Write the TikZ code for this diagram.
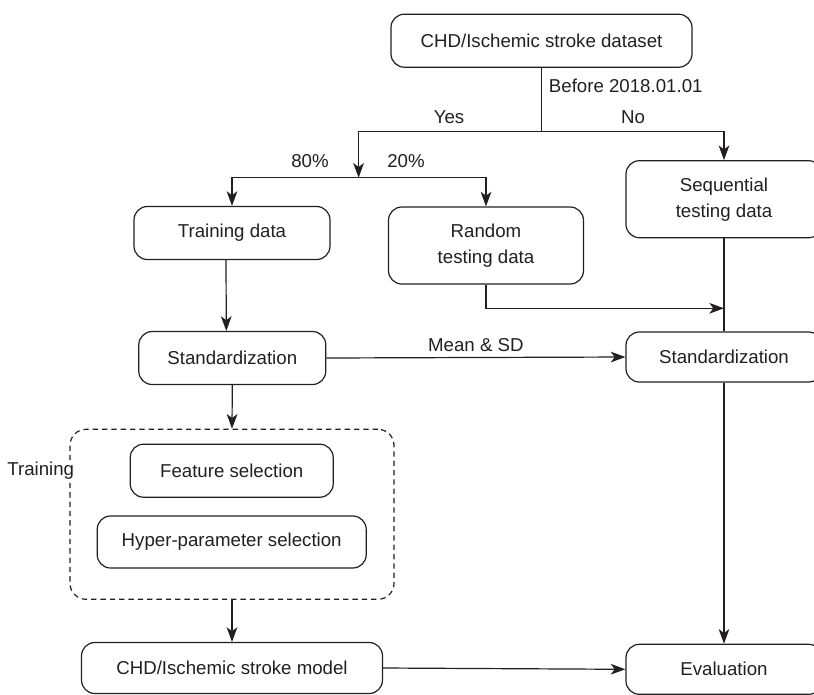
\documentclass[tikz,border=0pt]{standalone}
\usepackage{fontspec}
\setmainfont{Liberation Sans}
\usetikzlibrary{%
  arrows.meta,%
  calc%
}
\definecolor{inkdark}{HTML}{231F20}
\tikzset{>={Stealth[length=11pt,width=8pt,inset=3pt]},%
  every picture/.style={line width=0.9pt,draw=inkdark,text=inkdark},
  rbox/.style={draw,rounded corners=10pt,align=center,inner sep=0pt,
    font=\fontsize{14}{19.5}\selectfont},
  lbl/.style={font=\fontsize{14}{17}\selectfont,inner sep=1pt}}

\begin{document}
\begin{tikzpicture}[x=0.75pt,y=-0.75pt]
      \useasboundingbox (0,0) rectangle (814,694);
      % boxes
      \node[rbox,minimum width=225.75pt,minimum height=39.75pt] (dataset) at (541.5,40.7) {CHD/Ischemic stroke dataset};
      \node[rbox,minimum width=147pt,minimum height=39.75pt] (traindata) at (232,233) {Training data};
      \node[rbox,minimum width=146.25pt,minimum height=57.75pt] (randtest) at (486,245.5) {Random\\testing data};
      \node[rbox,minimum width=147pt,minimum height=57.75pt] (seqtest) at (724,199.2) {Sequential\\testing data};
      \node[rbox,minimum width=140.25pt,minimum height=39.75pt] (stdleft) at (232.3,358) {Standardization};
      \node[rbox,minimum width=147pt,minimum height=37.5pt] (stdright) at (724,357) {Standardization};
      \node[rbox,minimum width=152.25pt,minimum height=39.75pt] (featsel) at (231.7,470.7) {Feature selection};
      \node[rbox,minimum width=201.75pt,minimum height=39pt] (hypersel) at (231.7,542) {Hyper-parameter selection};
      \node[draw,dash pattern=on 4pt off 3pt,rounded corners=12pt,minimum width=243pt,minimum height=127.5pt] (trainbox) at (232,514.3) {};
      \node[lbl,fill=white,anchor=east] (traininglbl) at (76,471) {Training};
      \node[rbox,minimum width=225.75pt,minimum height=38.25pt] (model) at (232,668) {CHD/Ischemic stroke model};
      \node[rbox,minimum width=147pt,minimum height=37.5pt] (evaluation) at (724,669.3) {Evaluation};
      % junctions
      \coordinate (fork) at (541.5,131.7);
      \coordinate (split) at (358.6,177.7);
      \coordinate (join) at (724,308.3);
      % connectors
      \draw (dataset.south) -- (fork);
      \draw[->] (fork) -| (split);
      \draw[->] (fork) -| (seqtest.north);
      \draw[->] (split) -| (traindata.north);
      \draw[->] (split) -| (randtest.north);
      \draw[->] (randtest.south) |- (join);
      \draw (seqtest.south) -- (stdright.north);
      \draw[->] ([xshift=-4.5pt]traindata.south) -- ([xshift=-4.5pt]stdleft.north);
      \draw[->] (stdleft.east) -- (stdright.west) node[lbl,midway,above=3pt] {Mean \& SD};
      \draw[->] (stdleft.south) -- (trainbox.north);
      \draw[->] (trainbox.south) -- (model.north);
      \draw[->] (stdright.south) -- (evaluation.north);
      \draw[->] (model.east) -- (evaluation.west);
      % labels
      \node[lbl,anchor=west] (beforelbl) at (547,86) {Before 2018.01.01};
      \node[lbl] (yeslbl) at (449,117) {Yes};
      \node[lbl] (nolbl) at (633,117) {No};
      \node[lbl] (eightylbl) at (310,161) {80\%};
      \node[lbl] (twentylbl) at (406,161) {20\%};
    \end{tikzpicture}
\end{document}
